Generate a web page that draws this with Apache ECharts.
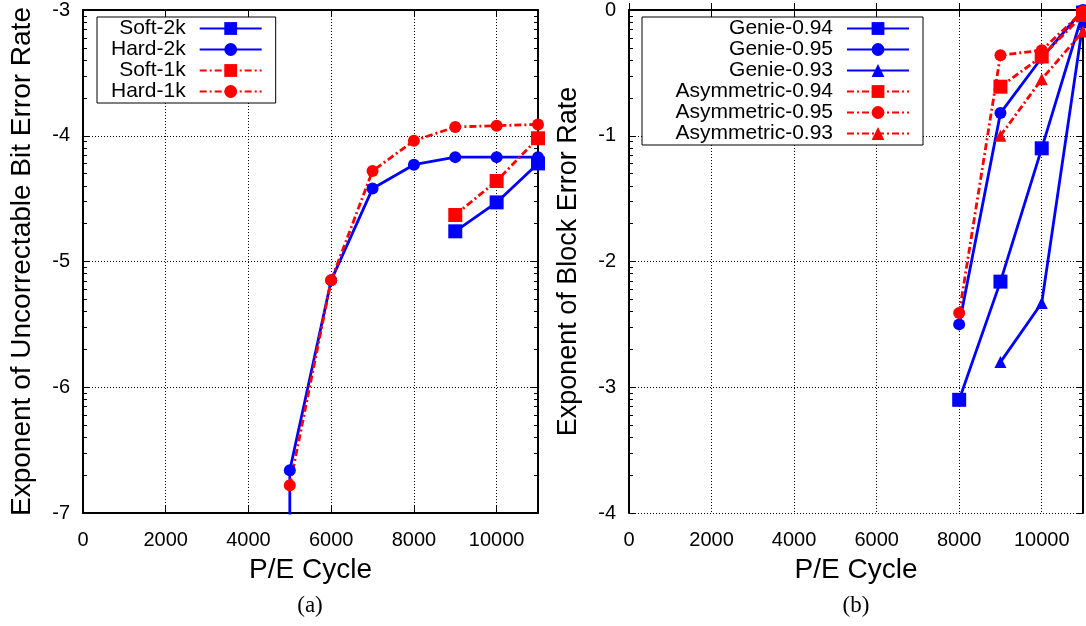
<!DOCTYPE html>
<html>
<head>
<meta charset="utf-8">
<script src="https://cdn.jsdelivr.net/npm/echarts@6/dist/echarts.min.js"></script>
<style>
html,body{margin:0;padding:0;background:#fff;}
#chart{width:1086px;height:626px;}
</style>
</head>
<body>
<div id="chart"></div>
<script>
// ---------- data ----------
const xTickLabels = [0, 2000, 4000, 6000, 8000, 10000];
const yTicksA = [-7, -6, -5, -4, -3];
const yTicksB = [-4, -3, -2, -1, 0];

// (a) Exponent of uncorrectable bit error rate
const soft2kCycles = [9000, 10000, 11000];
const soft2k       = [-4.76, -4.53, -4.22];
const hard2kCycles = [5000, 5000, 6000, 7000, 8000, 9000, 10000, 11000];
const hard2k       = [-7.6, -6.66, -5.15, -4.42, -4.23, -4.17, -4.17, -4.17];
const soft1kCycles = [9000, 10000, 11000];
const soft1k       = [-4.63, -4.36, -4.02];
const hard1kCycles = [5000, 6000, 7000, 8000, 9000, 10000, 11000];
const hard1k       = [-6.78, -5.15, -4.28, -4.04, -3.93, -3.92, -3.91];

// (b) Exponent of block error rate
const genie094Cycles = [8000, 9000, 10000, 11000];
const genie094       = [-3.1, -2.16, -1.1, -0.02];
const genie095Cycles = [8000, 9000, 10000, 11000];
const genie095       = [-2.5, -0.82, -0.38, 0];
const genie093Cycles = [9000, 10000, 11000];
const genie093       = [-2.8, -2.33, -0.1];
const asym094Cycles  = [9000, 10000, 11000];
const asym094        = [-0.61, -0.37, -0.04];
const asym095Cycles  = [8000, 9000, 10000, 11000];
const asym095        = [-2.41, -0.36, -0.32, -0.01];
const asym093Cycles  = [9000, 10000, 11000];
const asym093        = [-1.0, -0.55, -0.17];

// ---------- helpers ----------
const zip = (xs, ys) => xs.map((x, i) => [x, ys[i]]);
const FONT = 'Liberation Sans, Arial, Helvetica, sans-serif';
const BLUE = '#0000ff', RED = '#ff0000';
const DASHDOT = [7, 3, 2, 3];

function minorTicks(lo, hi) {
  const out = [];
  for (let n = lo; n < hi; n++) {
    for (let k = 2; k <= 9; k++) out.push(n + Math.log10(k));
  }
  return out;
}

const axisLineStyle = { show: true, lineStyle: { color: '#000', width: 2 } };
const gridLineStyle = { show: true, lineStyle: { color: '#000', width: 1, type: [1, 2] } };

function xAxes(gi) {
  return [
    {
      type: 'value', gridIndex: gi, position: 'bottom', min: 0, max: 11000, interval: 2000,
      axisLine: axisLineStyle,
      axisTick: { show: true, inside: true, length: 7, customValues: xTickLabels, lineStyle: { color: '#000', width: 1 } },
      axisLabel: { show: true, customValues: xTickLabels, formatter: (v) => String(v),
        color: '#000', fontFamily: FONT, fontSize: 20, margin: 17 },
      splitLine: gridLineStyle,
      name: 'P/E Cycle', nameLocation: 'middle', nameGap: 43,
      nameTextStyle: { color: '#000', fontFamily: FONT, fontSize: 28 }
    },
    {
      type: 'value', gridIndex: gi, position: 'top', min: 0, max: 11000, interval: 2000,
      axisLine: axisLineStyle,
      axisTick: { show: true, inside: true, length: 7, customValues: xTickLabels, lineStyle: { color: '#000', width: 1 } },
      axisLabel: { show: false },
      splitLine: { show: false }
    }
  ];
}

function yAxes(gi, ticks, title, nameGap, nameSize) {
  const lo = ticks[0], hi = ticks[ticks.length - 1];
  const base = { type: 'value', gridIndex: gi, min: lo, max: hi, interval: 1 };
  return [
    Object.assign({}, base, {
      position: 'left',
      axisLine: axisLineStyle,
      axisTick: { show: true, inside: true, length: 7, customValues: ticks, lineStyle: { color: '#000', width: 1 } },
      axisLabel: { show: true, customValues: ticks, formatter: (v) => String(v),
        color: '#000', fontFamily: FONT, fontSize: 20, margin: 13 },
      splitLine: gridLineStyle,
      name: title, nameLocation: 'middle', nameRotate: 90, nameGap: nameGap,
      nameTextStyle: { color: '#000', fontFamily: FONT, fontSize: nameSize }
    }),
    Object.assign({}, base, {
      position: 'left', offset: 0,
      axisLine: { show: false },
      axisTick: { show: true, inside: true, length: 4, customValues: minorTicks(lo, hi), lineStyle: { color: '#000', width: 1 } },
      axisLabel: { show: false }, splitLine: { show: false }
    }),
    Object.assign({}, base, {
      position: 'right', offset: 0,
      axisLine: axisLineStyle,
      axisTick: { show: true, inside: true, length: 7, customValues: ticks, lineStyle: { color: '#000', width: 1 } },
      axisLabel: { show: false }, splitLine: { show: false }
    }),
    Object.assign({}, base, {
      position: 'right', offset: 0,
      axisLine: { show: false },
      axisTick: { show: true, inside: true, length: 4, customValues: minorTicks(lo, hi), lineStyle: { color: '#000', width: 1 } },
      axisLabel: { show: false }, splitLine: { show: false }
    })
  ];
}

function line(name, xs, ys, color, symbol, size, dashed, xi, yi) {
  return {
    type: 'line', name: name, data: zip(xs, ys),
    xAxisIndex: xi, yAxisIndex: yi,
    symbol: symbol, symbolSize: size, showSymbol: true,
    clip: true, animation: false,
    lineStyle: { color: color, width: 2.8, type: dashed ? DASHDOT : 'solid' },
    itemStyle: { color: color },
    emphasis: { disabled: true }
  };
}

const legendText = (w) => ({
  color: '#000', fontFamily: FONT, fontSize: 21, lineHeight: 21,
  width: w, align: 'right', padding: [0, 9, 0, 0]
});

const option = {
  backgroundColor: '#fff',
  animation: false,
  grid: [
    { left: 83, top: 10, width: 455, height: 503 },
    { left: 629, top: 10, width: 454, height: 503 }
  ],
  xAxis: [].concat(xAxes(0), xAxes(1)),
  yAxis: [].concat(
    yAxes(0, yTicksA, 'Exponent of Uncorrectable Bit Error Rate', 47, 28),
    yAxes(1, yTicksB, 'Exponent of Block Error Rate', 47, 27)
  ),
  legend: [
    {
      left: 97, top: 17, orient: 'vertical', align: 'right',
      itemWidth: 62, itemHeight: 16, itemGap: 0,
      padding: [1, 13, 1, 14],
      backgroundColor: '#fff', borderColor: '#000', borderWidth: 1, borderRadius: 0,
      textStyle: legendText(74),
      data: ['Soft-2k', 'Hard-2k', 'Soft-1k', 'Hard-1k']
    },
    {
      left: 642, top: 17, orient: 'vertical', align: 'right',
      itemWidth: 62, itemHeight: 16, itemGap: 0,
      padding: [1, 13, 1, 31],
      backgroundColor: '#fff', borderColor: '#000', borderWidth: 1, borderRadius: 0,
      textStyle: legendText(160),
      data: ['Genie-0.94', 'Genie-0.95', 'Genie-0.93', 'Asymmetric-0.94', 'Asymmetric-0.95', 'Asymmetric-0.93']
    }
  ],
  graphic: [
    { type: 'text', x: 310, y: 606, style: { text: '(a)', font: '23px "Liberation Serif", "Times New Roman", serif', fill: '#000', align: 'center', verticalAlign: 'middle' } },
    { type: 'text', x: 856, y: 606, style: { text: '(b)', font: '23px "Liberation Serif", "Times New Roman", serif', fill: '#000', align: 'center', verticalAlign: 'middle' } }
  ],
  series: [
    line('Soft-2k', soft2kCycles, soft2k, BLUE, 'rect', 14, false, 0, 0),
    line('Hard-2k', hard2kCycles, hard2k, BLUE, 'circle', 12, false, 0, 0),
    line('Soft-1k', soft1kCycles, soft1k, RED, 'rect', 14, true, 0, 0),
    line('Hard-1k', hard1kCycles, hard1k, RED, 'circle', 12, true, 0, 0),

    line('Genie-0.94', genie094Cycles, genie094, BLUE, 'rect', 14, false, 2, 4),
    line('Genie-0.95', genie095Cycles, genie095, BLUE, 'circle', 12, false, 2, 4),
    line('Genie-0.93', genie093Cycles, genie093, BLUE, 'triangle', 12, false, 2, 4),
    line('Asymmetric-0.94', asym094Cycles, asym094, RED, 'rect', 14, true, 2, 4),
    line('Asymmetric-0.95', asym095Cycles, asym095, RED, 'circle', 12, true, 2, 4),
    line('Asymmetric-0.93', asym093Cycles, asym093, RED, 'triangle', 12, true, 2, 4)
  ]
};

const chart = echarts.init(document.getElementById('chart'), null, { renderer: 'canvas' });
chart.setOption(option);
</script>
</body>
</html>
